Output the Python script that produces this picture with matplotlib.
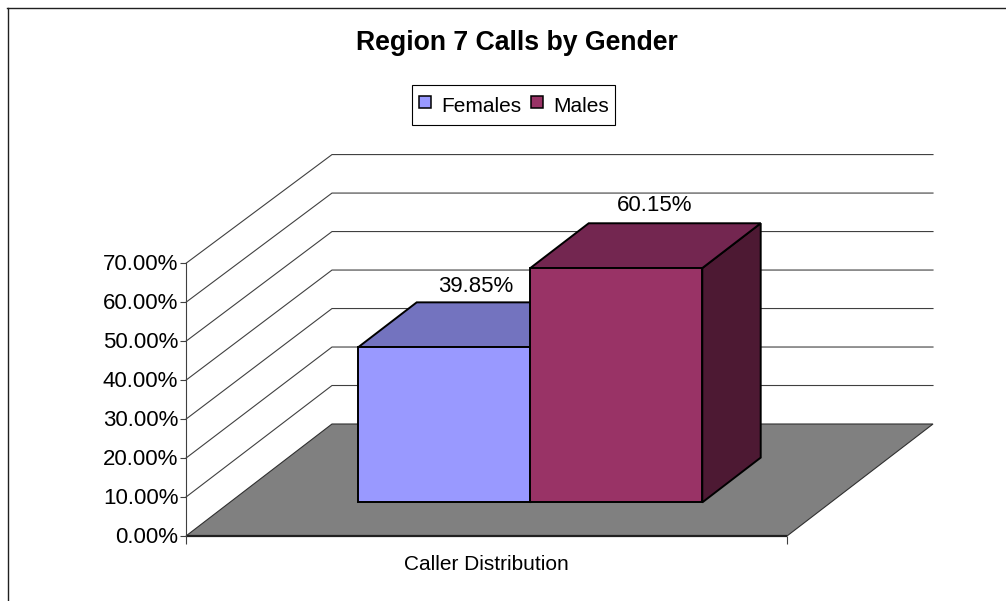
import matplotlib
matplotlib.use("Agg")
import matplotlib.pyplot as plt
from matplotlib.lines import Line2D
from matplotlib.transforms import ScaledTranslation

# ---- data ----
title = "Region 7 Calls by Gender"
series = ["Females", "Males"]
values = [39.85, 60.15]
category = "Caller Distribution"
y_ticks = [0, 10, 20, 30, 40, 50, 60, 70]

# ---- colours ----
front_cols = ["#9999FF", "#993366"]
top_cols = ["#7373BF", "#732650"]
side_cols = ["#7373BF", "#4D1933"]
floor_col = "#808080"

W, H = 1006, 601
plt.rcParams["font.family"] = ["Liberation Sans", "DejaVu Sans"]
fig = plt.figure(figsize=(W / 100, H / 100), dpi=100, facecolor="white")

# Axes: front plane of the 3-D box
L, R, B, T = 186, 787, 536, 263.3
ax = fig.add_axes([L / W, 1 - B / H, (R - L) / W, (B - T) / H])
ax.set_xlim(0, 1)
ax.set_ylim(0, 70)
ax.patch.set_visible(False)

# oblique depth vector for depth = 1
DX = 146 / (R - L)
DY = 112 / ((B - T) / 70)
WALL_SHRINK = 0.012  # back wall value scale is slightly smaller than the front


def proj(x, d, v, shrink=0.0):
    return x + DX * d, v * (1 - shrink * d) + DY * d


def face(pts, color, lw, z, ec="black"):
    xy = [proj(*p) for p in pts]
    ax.fill([p[0] for p in xy], [p[1] for p in xy], facecolor=color, edgecolor=ec,
            linewidth=lw, joinstyle="miter", clip_on=False, zorder=z)


# floor
face([(0, 0, 0), (1, 0, 0), (1, 1, 0), (0, 1, 0)], floor_col, 0.8, 1, ec="#303030")
ax.plot([0, 1], [0, 0], color="#202020", lw=1.6, clip_on=False, zorder=2, solid_capstyle="butt")

# wall gridlines
for v in y_ticks:
    if v == 0:
        continue
    p0, p1, p2 = proj(0, 0, v, WALL_SHRINK), proj(0, 1, v, WALL_SHRINK), proj(1, 1, v, WALL_SHRINK)
    ax.plot([p0[0], p1[0], p2[0]], [p0[1], p1[1], p2[1]], color="#404040", lw=0.8,
            clip_on=False, zorder=0.5, solid_joinstyle="miter")

# bars
BAR_W = 172 / (R - L)
D0, D1 = 0.30, 0.70
left0 = 0.5 - BAR_W
for i, v in enumerate(values):
    x0 = left0 + i * BAR_W
    x1 = x0 + BAR_W
    z = 3 + i
    face([(x1, D0, 0), (x1, D1, 0), (x1, D1, v), (x1, D0, v)], side_cols[i], 1.4, z)
    face([(x0, D0, v), (x1, D0, v), (x1, D1, v), (x0, D1, v)], top_cols[i], 1.4, z)
    face([(x0, D0, 0), (x1, D0, 0), (x1, D0, v), (x0, D0, v)], front_cols[i], 1.4, z)

# data labels
label_dx = [2.5, 9]
label_dy = [38.5, 40]
for i, v in enumerate(values):
    xc = left0 + (i + 0.5) * BAR_W
    px, py = proj(xc, (D0 + D1) / 2, v)
    ax.annotate(f"{v:.2f}%", (px, py), xytext=(label_dx[i], label_dy[i]),
                textcoords="offset pixels", ha="center", va="center",
                fontsize=16, color="black", zorder=8, annotation_clip=False)

# axes furniture
for s in ["top", "right", "bottom"]:
    ax.spines[s].set_visible(False)
ax.spines["left"].set_color("#404040")
ax.spines["left"].set_linewidth(0.8)
ax.set_yticks(y_ticks)
ax.set_yticklabels([f"{v:.2f}%" for v in y_ticks], fontsize=16, color="black")
ax.tick_params(axis="y", length=4.5, width=0.8, color="#404040", pad=1)
shift_up = ScaledTranslation(0, 1 / 100, fig.dpi_scale_trans)
for lab in ax.get_yticklabels():
    lab.set_transform(lab.get_transform() + shift_up)
ax.set_xticks([0.5])
ax.set_xticklabels([category], fontsize=15, color="black")
ax.tick_params(axis="x", which="major", length=0, pad=14)
ax.set_xticks([0, 1], minor=True)
ax.tick_params(axis="x", which="minor", length=6, width=0.8, color="#404040")

# title
fig.text(516.5 / W, 1 - 42.5 / H, title, ha="center", va="center", fontsize=19.2,
         fontweight="bold", color="black")

# legend
handles = [Line2D([], [], linestyle="none", marker="s", markersize=9.2, markerfacecolor=c,
                  markeredgecolor="black", markeredgewidth=1.1, label=s)
           for c, s in zip(front_cols, series)]
leg = fig.legend(handles=handles, ncol=2, loc="center", bbox_to_anchor=(513.8 / W, 1 - 105 / H),
                 fontsize=15, frameon=True, fancybox=False, edgecolor="black", framealpha=1,
                 handlelength=0.62, handleheight=1.55, handletextpad=0.46, columnspacing=0.42,
                 borderpad=0.33, borderaxespad=0, numpoints=1)
leg.get_frame().set_linewidth(0.8)

# chart-area border (top and left visible)
fig.add_artist(Line2D([7.5 / W, 7.5 / W], [0, 1 - 8 / H], color="#202020", lw=1.0))
fig.add_artist(Line2D([7 / W, 1], [1 - 8 / H, 1 - 8 / H], color="#202020", lw=1.0))

fig.savefig("out.png", dpi=100, facecolor="white")
